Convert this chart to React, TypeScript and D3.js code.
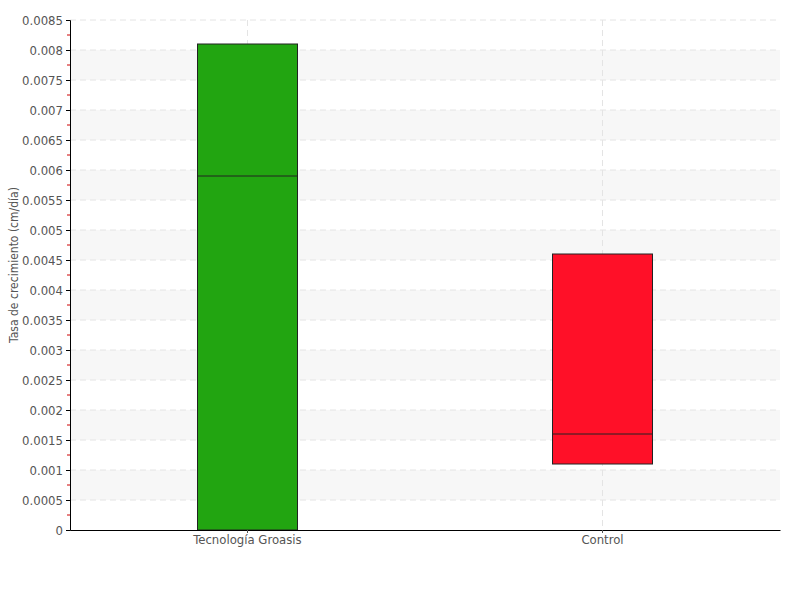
import { useEffect, useRef } from "react"
import * as d3 from "d3"

// box data: low, median, high (cm/día)
const categories = ["Tecnología Groasis", "Control"]
const lows = [0, 0.0011]
const medians = [0.0059, 0.0016]
const highs = [0.0081, 0.0046]
const colors = ["#22a511", "#ff1028"]
const yTicks = [0, 0.0005, 0.001, 0.0015, 0.002, 0.0025, 0.003, 0.0035, 0.004, 0.0045, 0.005, 0.0055, 0.006, 0.0065, 0.007, 0.0075, 0.008, 0.0085]
const yLabel = "Tasa de crecimiento (cm/día)"

export default function App() {
  const svgRef = useRef<SVGSVGElement>(null)

  useEffect(() => {
    if (!svgRef.current) return
    const W = 800
    const H = 600
    const margin = { top: 20, right: 20, bottom: 70, left: 70 }
    const innerW = W - margin.left - margin.right
    const innerH = H - margin.top - margin.bottom
    const font = "'DejaVu Sans Condensed', 'DejaVu Sans', sans-serif"

    const svg = d3.select(svgRef.current)
    svg.selectAll("*").remove()

    const g = svg.append("g").attr("transform", `translate(${margin.left},${margin.top})`)

    const x = d3.scaleBand().domain(categories).range([0, innerW])
    const y = d3.scaleLinear().domain([0, 0.0085]).range([innerH, 0])

    // Alternating bands
    const bands = d3.range(0.0005, 0.008, 0.001)
    g.append("g")
      .selectAll("rect")
      .data(bands)
      .join("rect")
      .attr("x", 0)
      .attr("width", innerW)
      .attr("y", (d) => y(d + 0.0005))
      .attr("height", (d) => y(d) - y(d + 0.0005))
      .attr("fill", "#f7f7f7")

    // Grid lines
    g.append("g")
      .selectAll("line")
      .data(yTicks.slice(1))
      .join("line")
      .attr("x1", 0)
      .attr("x2", innerW)
      .attr("y1", (d) => y(d))
      .attr("y2", (d) => y(d))
      .attr("stroke", "#e4e4e4")
      .attr("stroke-dasharray", "6,4")

    g.append("g")
      .selectAll("line")
      .data(categories)
      .join("line")
      .attr("x1", (d) => (x(d) ?? 0) + x.bandwidth() / 2)
      .attr("x2", (d) => (x(d) ?? 0) + x.bandwidth() / 2)
      .attr("y1", 0)
      .attr("y2", innerH)
      .attr("stroke", "#e4e4e4")
      .attr("stroke-dasharray", "6,4")

    // Boxes
    const boxW = 100
    const boxes = g.append("g")
    categories.forEach((c, i) => {
      const cx = (x(c) ?? 0) + x.bandwidth() / 2
      boxes
        .append("rect")
        .attr("x", cx - boxW / 2)
        .attr("width", boxW)
        .attr("y", y(highs[i]))
        .attr("height", y(lows[i]) - y(highs[i]))
        .attr("fill", colors[i])
        .attr("stroke", "#222")
        .attr("stroke-width", 1)
      boxes
        .append("line")
        .attr("x1", cx - boxW / 2)
        .attr("x2", cx + boxW / 2)
        .attr("y1", y(medians[i]))
        .attr("y2", y(medians[i]))
        .attr("stroke", "#222")
        .attr("stroke-width", 1)
    })

    // Minor ticks
    g.append("g")
      .selectAll("line")
      .data(d3.range(0.00025, 0.0085, 0.0005))
      .join("line")
      .attr("x1", -3)
      .attr("x2", 0)
      .attr("y1", (d) => y(d))
      .attr("y2", (d) => y(d))
      .attr("stroke", "#cc0000")

    // Axes
    const yAxis = g
      .append("g")
      .call(
        d3
          .axisLeft(y)
          .tickValues(yTicks)
          .tickSize(4)
          .tickPadding(3)
          .tickFormat((d) => String(+(+d).toFixed(5))),
      )
    yAxis.select(".domain").attr("stroke", "#000")
    yAxis.selectAll(".tick line").attr("stroke", "#000")
    yAxis
      .selectAll("text")
      .style("fill", "#555")
      .style("font-size", "13px")
      .style("font-family", font)

    const xAxis = g
      .append("g")
      .attr("transform", `translate(0,${innerH})`)
      .call(d3.axisBottom(x).tickSize(3).tickSizeOuter(0).tickPadding(2))
    xAxis.select(".domain").attr("stroke", "#000")
    xAxis.selectAll(".tick line").attr("stroke", "#555")
    xAxis
      .selectAll("text")
      .style("fill", "#555")
      .style("font-size", "13px")
      .style("font-family", font)

    // Y label
    g.append("text")
      .attr("transform", "rotate(-90)")
      .attr("x", -innerH / 2 + 10)
      .attr("y", -52)
      .attr("text-anchor", "middle")
      .style("fill", "#555")
      .style("font-size", "12px")
      .style("font-family", font)
      .text(yLabel)
  }, [])

  return <svg ref={svgRef} width={800} height={600} style={{ position: "absolute", left: 0, top: 0 }} />
}
